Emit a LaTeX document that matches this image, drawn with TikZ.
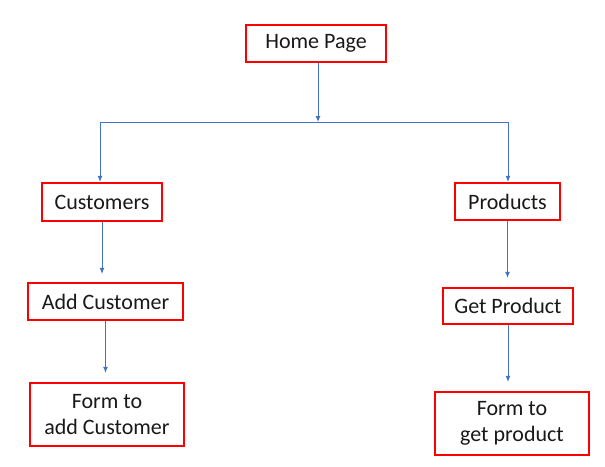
\documentclass[tikz,border=0pt]{standalone}
\usepackage{fontspec}
\setmainfont{Carlito}
\usetikzlibrary{arrows.meta}
\definecolor{linkblue}{RGB}{68,114,196}
\tikzset{
  pagebox/.style={draw=red, line width=2.2pt, fill=white, inner sep=0pt, align=center,
    font=\fontsize{22}{26}\selectfont, text=black!90},
  conn/.style={draw=linkblue, line width=1pt, -{Latex[length=6pt,width=5pt]}},
  plain/.style={draw=linkblue, line width=1pt}
}
\begin{document}
\begin{tikzpicture}[x=1pt,y=-1pt]
\useasboundingbox (0,0) rectangle (605,466);
\node[pagebox, minimum width=140pt, minimum height=37pt] (home) at (316,43.5) {Home Page};
\node[pagebox, minimum width=120pt, minimum height=38pt] (cust) at (102,202) {Customers};
\node[pagebox, minimum width=105pt, minimum height=37pt] (prod) at (507.5,201.5) {Products};
\node[pagebox, minimum width=155pt, minimum height=37pt] (addc) at (105.5,301.5) {Add Customer};
\node[pagebox, minimum width=130pt, minimum height=36pt] (getp) at (508,306) {Get Product};
\node[pagebox, minimum width=154pt, minimum height=63pt] (formc) at (107,414.5) {Form to\\add Customer};
\node[pagebox, minimum width=154pt, minimum height=63pt] (formp) at (512,423.5) {Form to\\get product};
\coordinate (hl) at (100,122);
\coordinate (hm) at (318,122);
\coordinate (hr) at (508,122);
\draw[plain] (hl) -- (hr);
\draw[conn] (home.south -| hm) -- (hm);
\draw[conn] (hl) -- (cust.north -| hl);
\draw[conn] (hr) -- (prod.north -| hr);
\draw[conn, shorten >=8pt] (cust.south) -- (addc.north -| cust.south);
\draw[conn, shorten >=9pt] (addc.south) -- (formc.north -| addc.south);
\draw[conn, shorten >=9pt] (prod.south) -- (getp.north -| prod.south);
\draw[conn, shorten >=9pt] (getp.south) -- (formp.north -| getp.south);
\end{tikzpicture}
\end{document}
